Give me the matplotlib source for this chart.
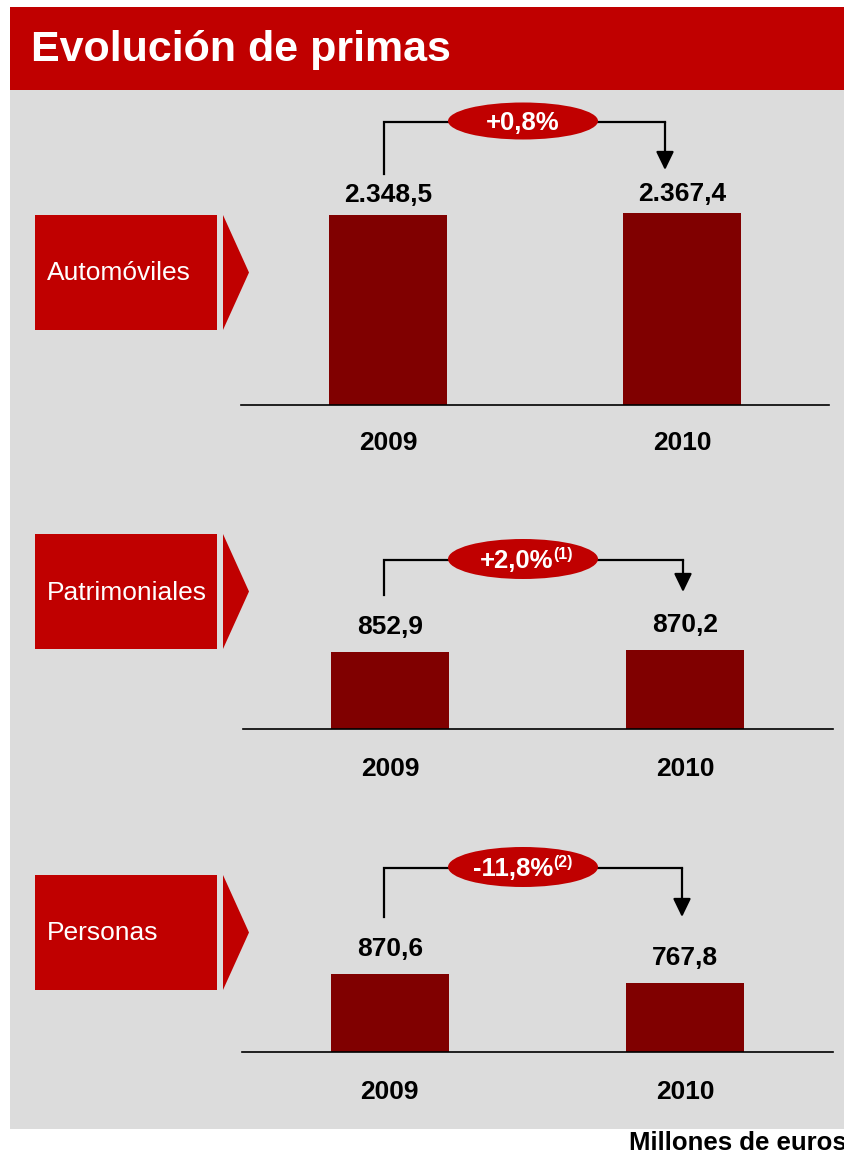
import matplotlib
matplotlib.use("Agg")
import matplotlib.pyplot as plt
from matplotlib.patches import Rectangle, Ellipse, Polygon

plt.rcParams['font.family'] = ['Liberation Sans', 'DejaVu Sans']

# ---------------- data ----------------
title = "Evolución de primas"
categories = ["Automóviles", "Patrimoniales", "Personas"]
years = ["2009", "2010"]
primas_2009 = [2348.5, 852.9, 870.6]
primas_2010 = [2367.4, 870.2, 767.8]
variaciones = ["+0,8%", "+2,0%", "-11,8%"]
notas = ["", "(1)", "(2)"]
unidad = "Millones de euros"

# ---------------- style ----------------
RED = "#C00000"
BAR = "#800000"
GREY = "#DCDCDC"
W, H = 845, 1155

# per-panel layout (pixels)
panels = [
    dict(base=405, x0=241, x1=829, scale=0.0810, lpad=5.5, ypad=19,
         box=(215, 330), bracket_y=122, left_bot=174, right_x=665, right_tip=170, ell_h=37),
    dict(base=729, x0=243, x1=833, scale=0.0903, lpad=9.5, ypad=20,
         box=(534, 649), bracket_y=560, left_bot=595, right_x=683, right_tip=592, ell_h=40),
    dict(base=1052, x0=242, x1=833, scale=0.0895, lpad=9.5, ypad=20,
         box=(875, 990), bracket_y=868, left_bot=917, right_x=682, right_tip=917, ell_h=40),
]


def fmt(v):
    s = f"{v:,.1f}"
    return s.replace(",", "X").replace(".", ",").replace("X", ".")


fig = plt.figure(figsize=(W / 100, H / 100), dpi=100)
fig.patch.set_facecolor("white")

# overlay axes in pixel coordinates for the slide decoration
ov = fig.add_axes([0, 0, 1, 1], zorder=0)
ov.set_xlim(0, W)
ov.set_ylim(H, 0)
ov.axis("off")

# grey background and title bar
ov.add_patch(Rectangle((10, 90), W - 10, 1129 - 90, color=GREY, lw=0))
ov.add_patch(Rectangle((10, 7), W - 10, 83, color=RED, lw=0))
ov.text(31, 50, title, color="white", fontsize=31, fontweight="bold",
        ha="left", va="center")
ov.text(629, 1143, unidad, color="black", fontsize=18.5, fontweight="bold",
        ha="left", va="center")

AXH = 270  # axes height in px above baseline
for i, p in enumerate(panels):
    # category box + chevron
    b0, b1 = p["box"]
    ov.add_patch(Rectangle((35, b0), 182, b1 - b0, color=RED, lw=0))
    ov.add_patch(Polygon([(223, b0), (249, (b0 + b1) / 2), (223, b1)],
                         closed=True, color=RED, lw=0))
    ov.text(47, (b0 + b1) / 2 + 1, categories[i], color="white", fontsize=19,
            ha="left", va="center")

    # bracket with arrow
    by = p["bracket_y"]
    ov.plot([384, 384, p["right_x"]], [p["left_bot"], by, by], color="black",
            lw=1.6, solid_joinstyle="miter", zorder=2)
    ov.annotate("", xy=(p["right_x"], p["right_tip"]), xytext=(p["right_x"], by),
                arrowprops=dict(arrowstyle="-|>,head_length=0.62,head_width=0.3",
                                mutation_scale=18, color="black", lw=1.6,
                                shrinkA=0, shrinkB=0), zorder=2)
    ov.add_patch(Ellipse((523, by - 1), 150, p["ell_h"], color=RED, lw=0, zorder=3))
    if notas[i]:
        ov.text(553, by + 1, variaciones[i], color="white", fontsize=18.5,
                fontweight="bold", ha="right", va="center", zorder=4)
        ov.text(553, by - 6, notas[i], color="white", fontsize=11.5,
                fontweight="bold", ha="left", va="center", zorder=4)
    else:
        ov.text(523, by + 1, variaciones[i], color="white", fontsize=18.5,
                fontweight="bold", ha="center", va="center", zorder=4)

    # bar axes
    ax = fig.add_axes([p["x0"] / W, (H - p["base"]) / H,
                       (p["x1"] - p["x0"]) / W, AXH / H], zorder=1)
    ax.patch.set_alpha(0)
    vals = [primas_2009[i], primas_2010[i]]
    bars = ax.bar([0, 1], vals, width=0.4, color=BAR)
    ax.set_xlim(-0.5, 1.5)
    ax.set_ylim(0, AXH / p["scale"])
    ax.bar_label(bars, labels=[fmt(v) for v in vals], padding=p["lpad"],
                 fontsize=19, fontweight="bold", color="black")
    ax.set_xticks([0, 1], labels=years)
    ax.tick_params(axis="x", length=0, pad=p["ypad"], labelsize=19)
    for lab in ax.get_xticklabels():
        lab.set_fontweight("bold")
    ax.set_yticks([])
    for s in ["top", "left", "right"]:
        ax.spines[s].set_visible(False)
    ax.spines["bottom"].set_color("black")
    ax.spines["bottom"].set_linewidth(1.2)

fig.savefig("out.png", dpi=100)
